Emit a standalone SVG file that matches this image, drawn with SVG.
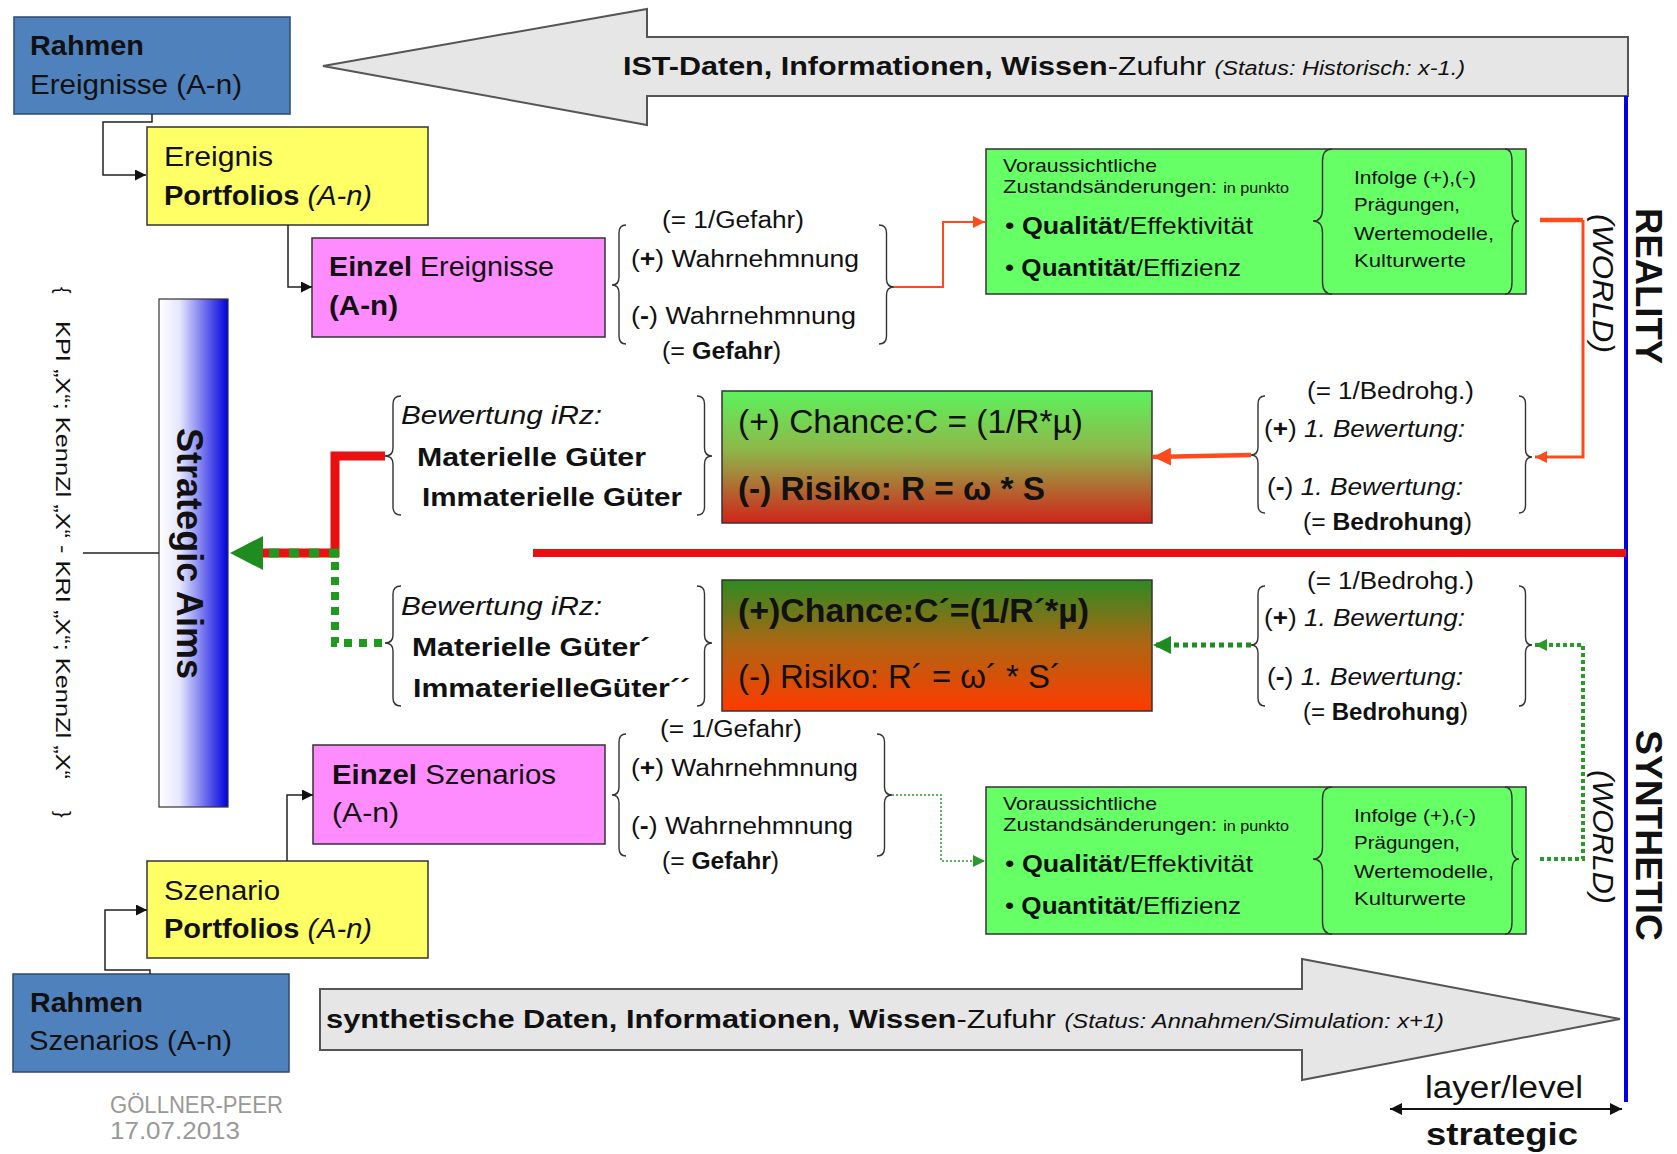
<svg xmlns="http://www.w3.org/2000/svg" width="1677" height="1154" viewBox="0 0 1677 1154">
<style>
text{font-family:"Liberation Sans",Arial,sans-serif;fill:#111}
.b{font-weight:bold}
.i{font-style:italic}
.box{stroke:#333;stroke-width:1.5}
.br{fill:none;stroke:#333;stroke-width:1.4}
.k{fill:none;stroke:#222;stroke-width:1.5}
</style>
<defs>
<linearGradient id="g1" x1="0" y1="0" x2="0" y2="1"><stop offset="0" stop-color="#5CF25C"/><stop offset="0.45" stop-color="#8FB64A"/><stop offset="1" stop-color="#D0241A"/></linearGradient>
<linearGradient id="g2" x1="0" y1="0" x2="0" y2="1"><stop offset="0" stop-color="#2F8A22"/><stop offset="0.5" stop-color="#B06512"/><stop offset="1" stop-color="#FF3A00"/></linearGradient>
<linearGradient id="sa" x1="0" y1="0" x2="1" y2="0"><stop offset="0" stop-color="#FFFFFF"/><stop offset="0.3" stop-color="#E6E6FF"/><stop offset="1" stop-color="#0000DD"/></linearGradient>
<marker id="mk" viewBox="0 0 10 10" refX="10" refY="5" markerUnits="userSpaceOnUse" markerWidth="11" markerHeight="11" orient="auto"><path d="M0,0 L10,5 L0,10 z" fill="#111"/></marker>
<marker id="mo" viewBox="0 0 10 10" refX="10" refY="5" markerUnits="userSpaceOnUse" markerWidth="12" markerHeight="12" orient="auto"><path d="M0,0 L10,5 L0,10 z" fill="#FF4A1C"/></marker>
<marker id="mo2" viewBox="0 0 10 10" refX="10" refY="5" markerUnits="userSpaceOnUse" markerWidth="18" markerHeight="18" orient="auto"><path d="M0,0 L10,5 L0,10 z" fill="#FF4A1C"/></marker>
<marker id="mg" viewBox="0 0 10 10" refX="10" refY="5" markerUnits="userSpaceOnUse" markerWidth="12" markerHeight="12" orient="auto"><path d="M0,0 L10,5 L0,10 z" fill="#2A9A2A"/></marker>
<marker id="mg2" viewBox="0 0 10 10" refX="10" refY="5" markerUnits="userSpaceOnUse" markerWidth="18" markerHeight="18" orient="auto"><path d="M0,0 L10,5 L0,10 z" fill="#1E8C1E"/></marker>
<marker id="md" viewBox="0 0 10 10" refX="10" refY="5" markerUnits="userSpaceOnUse" markerWidth="12" markerHeight="12" orient="auto-start-reverse"><path d="M0,0 L10,5 L0,10 z" fill="#111"/></marker>
</defs>
<rect width="1677" height="1154" fill="#FFFFFF"/>

<g id="arrow-ist">
<polygon points="323,66 647,9 647,37 1628,37 1628,96 647,96 647,125" fill="#E6E6E6" stroke="#555" stroke-width="2"/>
<text x="623" y="75" font-size="26" textLength="842" lengthAdjust="spacingAndGlyphs"><tspan class="b">IST-Daten, Informationen, Wissen</tspan>-Zufuhr <tspan class="i" font-size="20">(Status: Historisch: x-1.)</tspan></text>
</g>
<g id="arrow-synth">
<polygon points="320,989 1302,989 1302,959 1620,1019 1302,1080 1302,1050 320,1050" fill="#E6E6E6" stroke="#555" stroke-width="2"/>
<text x="326" y="1028" font-size="26" textLength="1118" lengthAdjust="spacingAndGlyphs"><tspan class="b">synthetische Daten, Informationen, Wissen</tspan>-Zufuhr <tspan class="i" font-size="20">(Status: Annahmen/Simulation: x+1)</tspan></text>
</g>

<g id="rahmen-ereignisse">
<rect x="14" y="17" width="276" height="97" fill="#4F81BD" stroke="#2C4A70" stroke-width="1.5"/>
<text x="30" y="55" class="b" font-size="27" textLength="114" lengthAdjust="spacingAndGlyphs">Rahmen</text>
<text x="30" y="94" font-size="27" textLength="212" lengthAdjust="spacingAndGlyphs">Ereignisse (A-n)</text>
</g>
<g id="ereignis-portfolios">
<rect x="147" y="127" width="281" height="98" fill="#FFFF66" class="box"/>
<text x="164" y="166" font-size="27" textLength="109" lengthAdjust="spacingAndGlyphs">Ereignis</text>
<text x="164" y="205" font-size="27" textLength="208" lengthAdjust="spacingAndGlyphs"><tspan class="b">Portfolios</tspan> <tspan class="i">(A-n)</tspan></text>
</g>
<g id="einzel-ereignisse">
<rect x="312" y="238" width="293" height="99" fill="#FF8CFF" class="box"/>
<text x="329" y="276" font-size="27" textLength="225" lengthAdjust="spacingAndGlyphs"><tspan class="b">Einzel</tspan> Ereignisse</text>
<text x="329" y="315" class="b" font-size="27" textLength="69" lengthAdjust="spacingAndGlyphs">(A-n)</text>
</g>

<g id="wahrnehmung-real">
<path class="br" d="M626,225 Q619,225 619,233 L619,277 Q619,285 612,285 Q619,285 619,293 L619,336 Q619,344 626,344"/>
<path class="br" d="M879,225 Q886.5,225 886.5,233 L886.5,279 Q886.5,287 894,287 Q886.5,287 886.5,295 L886.5,336 Q886.5,344 879,344"/>
<text x="662" y="228" font-size="23" textLength="142" lengthAdjust="spacingAndGlyphs">(= 1/Gefahr)</text>
<text x="631" y="267" font-size="23" textLength="228" lengthAdjust="spacingAndGlyphs">(<tspan class="b">+</tspan>) Wahrnehmnung</text>
<text x="631" y="324" font-size="23" textLength="225" lengthAdjust="spacingAndGlyphs">(<tspan class="b">-</tspan>) Wahrnehmnung</text>
<text x="662" y="359" font-size="23" textLength="119" lengthAdjust="spacingAndGlyphs">(= <tspan class="b">Gefahr</tspan>)</text>
</g>

<g id="zustand-real">
<rect x="986" y="149" width="540" height="145" fill="#66FF66" class="box"/>
<path class="br" d="M1332,149 Q1322.5,149 1322.5,161 L1322.5,209 Q1322.5,221 1313,221 Q1322.5,221 1322.5,233 L1322.5,282 Q1322.5,294 1332,294"/>
<path class="br" d="M1505,149 Q1512,149 1512,161 L1512,209 Q1512,221 1519,221 Q1512,221 1512,233 L1512,282 Q1512,294 1505,294"/>
<text x="1003" y="172" font-size="19" textLength="154" lengthAdjust="spacingAndGlyphs">Voraussichtliche</text>
<text x="1003" y="193" font-size="19" textLength="286" lengthAdjust="spacingAndGlyphs">Zustandsänderungen: <tspan font-size="14">in punkto</tspan></text>
<text x="1005" y="234" font-size="24" textLength="248" lengthAdjust="spacingAndGlyphs">• <tspan class="b">Qualität</tspan>/Effektivität</text>
<text x="1005" y="276" font-size="24" textLength="236" lengthAdjust="spacingAndGlyphs">• <tspan class="b">Quantität</tspan>/Effizienz</text>
<text x="1354" y="184" font-size="19" textLength="122" lengthAdjust="spacingAndGlyphs">Infolge (+),(-)</text>
<text x="1354" y="211" font-size="19" textLength="106" lengthAdjust="spacingAndGlyphs">Prägungen,</text>
<text x="1354" y="240" font-size="19" textLength="140" lengthAdjust="spacingAndGlyphs">Wertemodelle,</text>
<text x="1354" y="267" font-size="19" textLength="112" lengthAdjust="spacingAndGlyphs">Kulturwerte</text>
</g>

<g id="bewertung1-real">
<path class="br" d="M1265,396 Q1258,396 1258,404 L1258,447 Q1258,455 1251,455 Q1258,455 1258,463 L1258,505 Q1258,513 1265,513"/>
<path class="br" d="M1519,396 Q1525.5,396 1525.5,404 L1525.5,449 Q1525.5,457 1532,457 Q1525.5,457 1525.5,465 L1525.5,505 Q1525.5,513 1519,513"/>
<text x="1307" y="399" font-size="23" textLength="167" lengthAdjust="spacingAndGlyphs">(= 1/Bedrohg.)</text>
<text x="1264" y="437" font-size="23" textLength="201" lengthAdjust="spacingAndGlyphs">(<tspan class="b">+</tspan>) <tspan class="i">1. Bewertung:</tspan></text>
<text x="1267" y="495" font-size="23" textLength="196" lengthAdjust="spacingAndGlyphs">(<tspan class="b">-</tspan>) <tspan class="i">1. Bewertung:</tspan></text>
<text x="1303" y="530" font-size="23" textLength="169" lengthAdjust="spacingAndGlyphs">(= <tspan class="b">Bedrohung</tspan>)</text>
</g>

<g id="chance-risiko-real">
<rect x="722" y="391" width="430" height="132" fill="url(#g1)" class="box"/>
<text x="738" y="433" font-size="33" textLength="345" lengthAdjust="spacingAndGlyphs">(+) Chance:C = (1/R*µ)</text>
<text x="738" y="500" font-size="33" class="b" textLength="307" lengthAdjust="spacingAndGlyphs">(-)  Risiko:  R = ω * S</text>
</g>

<g id="bewertung-irz-real">
<path class="br" d="M401,396 Q393,396 393,404 L393,448 Q393,456 385,456 Q393,456 393,464 L393,507 Q393,515 401,515"/>
<path class="br" d="M697,396 Q704.5,396 704.5,404 L704.5,448 Q704.5,456 712,456 Q704.5,456 704.5,464 L704.5,507 Q704.5,515 697,515"/>
<text x="401" y="424" class="i" font-size="26" textLength="201" lengthAdjust="spacingAndGlyphs">Bewertung iRz:</text>
<text x="417" y="466" class="b" font-size="26" textLength="229" lengthAdjust="spacingAndGlyphs">Materielle Güter</text>
<text x="422" y="506" class="b" font-size="26" textLength="260" lengthAdjust="spacingAndGlyphs">Immaterielle Güter</text>
</g>

<g id="bewertung-irz-synth">
<path class="br" d="M401,586 Q393,586 393,594 L393,635 Q393,643 385,643 Q393,643 393,651 L393,698 Q393,706 401,706"/>
<path class="br" d="M697,586 Q704.5,586 704.5,594 L704.5,635 Q704.5,643 712,643 Q704.5,643 704.5,651 L704.5,698 Q704.5,706 697,706"/>
<text x="401" y="615" class="i" font-size="26" textLength="201" lengthAdjust="spacingAndGlyphs">Bewertung iRz:</text>
<text x="412" y="656" class="b" font-size="26" textLength="238" lengthAdjust="spacingAndGlyphs">Materielle Güter´</text>
<text x="413" y="697" class="b" font-size="26" textLength="277" lengthAdjust="spacingAndGlyphs">ImmaterielleGüter´´</text>
</g>

<g id="chance-risiko-synth">
<rect x="722" y="580" width="430" height="131" fill="url(#g2)" class="box"/>
<text x="738" y="622" font-size="33" class="b" textLength="351" lengthAdjust="spacingAndGlyphs">(+)Chance:C´=(1/R´*µ)</text>
<text x="738" y="688" font-size="33" textLength="323" lengthAdjust="spacingAndGlyphs">(-)  Risiko: R´ = ω´ * S´</text>
</g>

<g id="bewertung1-synth">
<path class="br" d="M1265,586 Q1258,586 1258,594 L1258,637 Q1258,645 1251,645 Q1258,645 1258,653 L1258,698 Q1258,706 1265,706"/>
<path class="br" d="M1519,586 Q1525.5,586 1525.5,594 L1525.5,637 Q1525.5,645 1532,645 Q1525.5,645 1525.5,653 L1525.5,698 Q1525.5,706 1519,706"/>
<text x="1307" y="589" font-size="23" textLength="167" lengthAdjust="spacingAndGlyphs">(= 1/Bedrohg.)</text>
<text x="1264" y="626" font-size="23" textLength="201" lengthAdjust="spacingAndGlyphs">(<tspan class="b">+</tspan>) <tspan class="i">1. Bewertung:</tspan></text>
<text x="1267" y="685" font-size="23" textLength="196" lengthAdjust="spacingAndGlyphs">(<tspan class="b">-</tspan>) <tspan class="i">1. Bewertung:</tspan></text>
<text x="1303" y="720" font-size="23" textLength="165" lengthAdjust="spacingAndGlyphs">(= <tspan class="b">Bedrohung</tspan>)</text>
</g>

<g id="wahrnehmung-synth">
<path class="br" d="M626,734 Q619,734 619,742 L619,787 Q619,795 612,795 Q619,795 619,803 L619,848 Q619,856 626,856"/>
<path class="br" d="M877,734 Q884.5,734 884.5,742 L884.5,787 Q884.5,795 892,795 Q884.5,795 884.5,803 L884.5,848 Q884.5,856 877,856"/>
<text x="660" y="737" font-size="23" textLength="142" lengthAdjust="spacingAndGlyphs">(= 1/Gefahr)</text>
<text x="631" y="776" font-size="23" textLength="227" lengthAdjust="spacingAndGlyphs">(<tspan class="b">+</tspan>) Wahrnehmnung</text>
<text x="631" y="834" font-size="23" textLength="222" lengthAdjust="spacingAndGlyphs">(<tspan class="b">-</tspan>) Wahrnehmnung</text>
<text x="662" y="869" font-size="23" textLength="117" lengthAdjust="spacingAndGlyphs">(= <tspan class="b">Gefahr</tspan>)</text>
</g>

<g id="zustand-synth">
<rect x="986" y="787" width="540" height="147" fill="#66FF66" class="box"/>
<path class="br" d="M1332,787 Q1322.5,787 1322.5,799 L1322.5,847 Q1322.5,859 1313,859 Q1322.5,859 1322.5,871 L1322.5,922 Q1322.5,934 1332,934"/>
<path class="br" d="M1505,787 Q1512,787 1512,799 L1512,847 Q1512,859 1519,859 Q1512,859 1512,871 L1512,922 Q1512,934 1505,934"/>
<text x="1003" y="810" font-size="19" textLength="154" lengthAdjust="spacingAndGlyphs">Voraussichtliche</text>
<text x="1003" y="831" font-size="19" textLength="286" lengthAdjust="spacingAndGlyphs">Zustandsänderungen: <tspan font-size="14">in punkto</tspan></text>
<text x="1005" y="872" font-size="24" textLength="248" lengthAdjust="spacingAndGlyphs">• <tspan class="b">Qualität</tspan>/Effektivität</text>
<text x="1005" y="914" font-size="24" textLength="236" lengthAdjust="spacingAndGlyphs">• <tspan class="b">Quantität</tspan>/Effizienz</text>
<text x="1354" y="822" font-size="19" textLength="122" lengthAdjust="spacingAndGlyphs">Infolge (+),(-)</text>
<text x="1354" y="849" font-size="19" textLength="106" lengthAdjust="spacingAndGlyphs">Prägungen,</text>
<text x="1354" y="878" font-size="19" textLength="140" lengthAdjust="spacingAndGlyphs">Wertemodelle,</text>
<text x="1354" y="905" font-size="19" textLength="112" lengthAdjust="spacingAndGlyphs">Kulturwerte</text>
</g>

<g id="einzel-szenarios">
<rect x="313" y="745" width="292" height="99" fill="#FF8CFF" class="box"/>
<text x="332" y="784" font-size="27" textLength="224" lengthAdjust="spacingAndGlyphs"><tspan class="b">Einzel</tspan>  Szenarios</text>
<text x="332" y="822" font-size="27" textLength="67" lengthAdjust="spacingAndGlyphs">(A-n)</text>
</g>
<g id="szenario-portfolios">
<rect x="147" y="861" width="281" height="97" fill="#FFFF66" class="box"/>
<text x="164" y="900" font-size="27" textLength="116" lengthAdjust="spacingAndGlyphs">Szenario</text>
<text x="164" y="938" font-size="27" textLength="208" lengthAdjust="spacingAndGlyphs"><tspan class="b">Portfolios</tspan> <tspan class="i">(A-n)</tspan></text>
</g>
<g id="rahmen-szenarios">
<rect x="13" y="974" width="276" height="98" fill="#4F81BD" stroke="#2C4A70" stroke-width="1.5"/>
<text x="30" y="1012" class="b" font-size="27" textLength="113" lengthAdjust="spacingAndGlyphs">Rahmen</text>
<text x="29" y="1050" font-size="27" textLength="203" lengthAdjust="spacingAndGlyphs">Szenarios (A-n)</text>
</g>

<g id="strategic-aims">
<rect x="159" y="299" width="69" height="508" fill="url(#sa)" stroke="#333" stroke-width="1.2"/>
<text transform="translate(177,428) rotate(90)" class="b" font-size="36" fill="#10102A" textLength="251" lengthAdjust="spacingAndGlyphs">Strategic Aims</text>
</g>

<g id="kpi">
<text transform="translate(56,321) rotate(90)" font-size="20" textLength="458" lengthAdjust="spacingAndGlyphs">KPI „X“; KennZl „X“ - KRI „X“; KennZl „X“</text>
<text transform="translate(56,287) rotate(90)" font-size="20">{</text>
<text transform="translate(56,811) rotate(90)" font-size="20">}</text>
</g>

<g id="labels">
<text transform="translate(1636,208) rotate(90)" class="b" font-size="36" textLength="156" lengthAdjust="spacingAndGlyphs">REALITY</text>
<text transform="translate(1593,214) rotate(90)" class="i" font-size="30" textLength="139" lengthAdjust="spacingAndGlyphs">(WORLD)</text>
<text transform="translate(1636,730) rotate(90)" class="b" font-size="36" textLength="211" lengthAdjust="spacingAndGlyphs">SYNTHETIC</text>
<text transform="translate(1593,770) rotate(90)" class="i" font-size="30" textLength="134" lengthAdjust="spacingAndGlyphs">(WORLD)</text>
<text x="110" y="1113" font-size="23" fill="#999" style="fill:#999" textLength="173" lengthAdjust="spacingAndGlyphs">GÖLLNER-PEER</text>
<text x="110" y="1139" font-size="23" style="fill:#999" textLength="130" lengthAdjust="spacingAndGlyphs">17.07.2013</text>
<text x="1425" y="1098" font-size="31" textLength="158" lengthAdjust="spacingAndGlyphs">layer/level</text>
<text x="1426" y="1145" class="b" font-size="31" textLength="152" lengthAdjust="spacingAndGlyphs">strategic</text>
</g>

<g id="connectors">
<path d="M1626,96 V1102" stroke="#0000E0" stroke-width="4" fill="none"/>
<path d="M533,553 H1626" stroke="#E81010" stroke-width="8" fill="none"/>
<path class="k" d="M152,114 V122 H103 V175 H146" marker-end="url(#mk)"/>
<path class="k" d="M288,225 V287 H312" marker-end="url(#mk)"/>
<path class="k" d="M287,861 V795 H313" marker-end="url(#mk)"/>
<path class="k" d="M150,974 V970 H105 V910 H147" marker-end="url(#mk)"/>
<path class="k" d="M83,553 H159"/>
<path d="M894,287 H943 V222 H985" fill="none" stroke="#FF4A1C" stroke-width="2" marker-end="url(#mo)"/>
<path d="M1540,220 H1583" fill="none" stroke="#FF4A1C" stroke-width="4.5"/>
<path d="M1583,220 V457 H1535" fill="none" stroke="#FF4A1C" stroke-width="3" marker-end="url(#mo)"/>
<path d="M1251,455 L1200,456 L1153,457" fill="none" stroke="#FF4A1C" stroke-width="4.5" marker-end="url(#mo2)"/>
<path d="M892,795 H941 V861 H985" fill="none" stroke="#2A9A2A" stroke-width="1.5" stroke-dasharray="2 2" marker-end="url(#mg)"/>
<path d="M1540,859 H1583 V645 H1535" fill="none" stroke="#2A9A2A" stroke-width="4" stroke-dasharray="4 3" marker-end="url(#mg)"/>
<path d="M1251,645 H1153" fill="none" stroke="#1E8C1E" stroke-width="5" stroke-dasharray="5 4" marker-end="url(#mg2)"/>
<path d="M385,456 H335 V557" fill="none" stroke="#E81010" stroke-width="9"/>
<path d="M339,553 H258" fill="none" stroke="#E81010" stroke-width="9"/>
<path d="M339,553 H258" fill="none" stroke="#1E9A1E" stroke-width="9" stroke-dasharray="10 10"/>
<polygon points="230,553 263,536 263,570" fill="#1E8C1E"/>
<path d="M335,562 V643 H385" fill="none" stroke="#1E9A1E" stroke-width="8" stroke-dasharray="8 7"/>
<path d="M1390,1109 H1622" fill="none" stroke="#111" stroke-width="2" marker-start="url(#md)" marker-end="url(#md)"/>
</g>
</svg>
